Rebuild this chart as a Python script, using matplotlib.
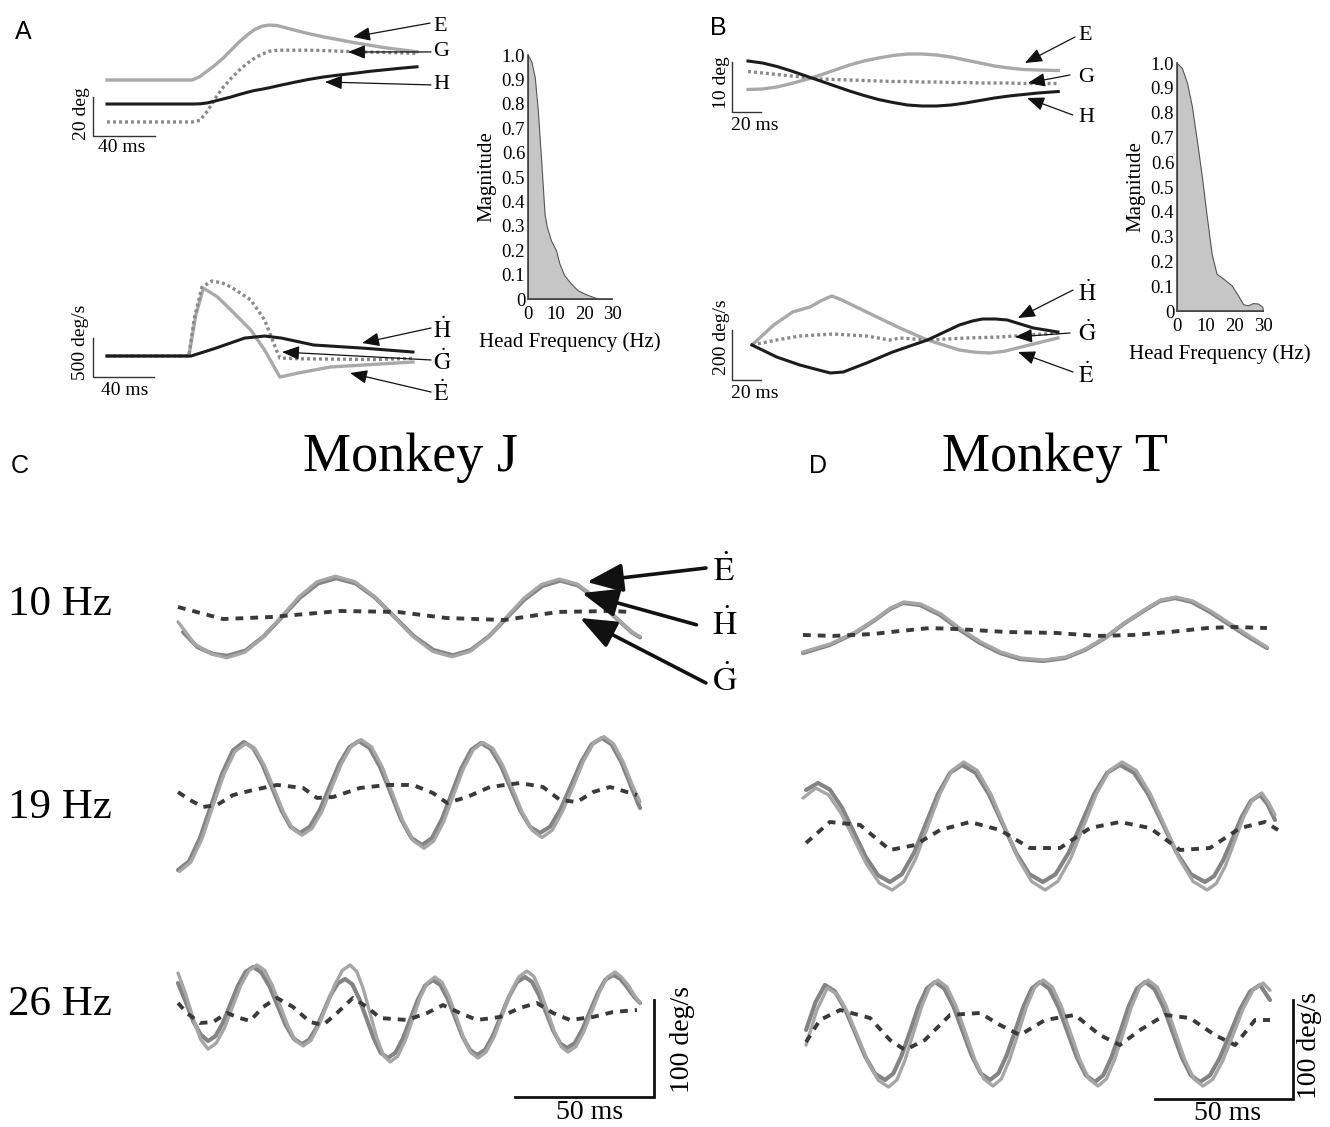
import numpy as np
import matplotlib
matplotlib.use('Agg')
import matplotlib.pyplot as plt

plt.rcParams['font.family'] = ['Liberation Serif', 'DejaVu Serif']
plt.rcParams['mathtext.fontset'] = 'stix'

W, H = 1330, 1127

# ---- A: 40 deg gaze shift, position (deg) and velocity (deg/s) ----
a_pos_t = [0, 55, 60, 65, 70, 75, 80, 85, 90, 95, 100, 105, 110, 120, 130, 140, 150, 160, 170, 180, 190, 200]
a_eye = [28.7, 28.7, 30.5, 33.5, 36.5, 40, 44, 48, 51.5, 54.5, 56.3, 56.9, 56.6, 54.5, 52.5, 50.8, 49.3, 47.8, 46.5, 45.2, 44.2, 43.2]
a_gaze = [7.2, 7.2, 8, 13, 19.5, 25, 29.5, 33.5, 37, 39.8, 42, 43.5, 44, 44, 44, 43.8, 43.5, 43.2, 43, 42.8, 42.6, 42.4]
a_head = [16.4, 16.4, 16.5, 17, 18, 19, 20, 21.2, 22.3, 23.3, 24, 24.8, 25.7, 27.4, 29, 30.3, 31.3, 32.2, 33.2, 34, 34.8, 35.5]

a_eye_vel_t = [0, 53.5, 58, 63, 72, 81, 94, 103, 113, 125, 146, 168, 185, 200]
a_eye_vel = [0, 0, 520, 870, 760, 590, 333, 77, -270, -218, -141, -115, -95, -77]
a_gaze_vel_t = [0, 53.5, 57, 62, 68.4, 75, 81, 94, 103, 110, 113, 125, 150, 175, 200]
a_gaze_vel = [0, 0, 480, 880, 961, 940, 885, 718, 462, 115, -26, -35, -40, -45, -30]
a_head_vel_t = [0, 55, 71, 90, 103, 114, 135, 168, 200]
a_head_vel = [0, 0, 100, 230, 256, 230, 141, 100, 51]

a_freq = [0, 1.2, 2.4, 3.5, 4.7, 5.9, 6.7, 8.2, 10, 11.2, 12.9, 15.3, 17.6, 20, 22.9, 25.3, 30]
a_mag = [1.0, 0.973, 0.91, 0.775, 0.57, 0.35, 0.297, 0.24, 0.2, 0.146, 0.098, 0.064, 0.037, 0.023, 0.0096, 0, 0]

# ---- B: small head-free oscillation ----
b_pos_t = [0, 10, 20, 30, 40, 50, 60, 70, 80, 90, 100, 110, 120, 130, 140, 150, 160, 170, 180, 190, 200, 214]
b_eye = [4.5, 4.6, 5.0, 5.7, 6.5, 7.4, 8.4, 9.4, 10.2, 10.8, 11.3, 11.6, 11.6, 11.4, 11.0, 10.4, 9.8, 9.2, 8.8, 8.5, 8.4, 8.3]
b_gaze = [8.1, 7.8, 7.5, 7.2, 6.9, 6.6, 6.5, 6.4, 6.3, 6.2, 6.1, 6.1, 6.0, 6.0, 5.9, 5.9, 5.8, 5.8, 5.8, 5.7, 5.7, 5.7]
b_head = [10.2, 9.8, 9.1, 8.2, 7.2, 6.2, 5.2, 4.2, 3.3, 2.5, 1.9, 1.4, 1.2, 1.2, 1.4, 1.8, 2.3, 2.8, 3.2, 3.5, 3.8, 4.1]

b_eye_vel_t = [0, 15, 28, 40, 48, 55, 62, 79, 102, 121, 143, 154, 164, 174, 183, 211]
b_eye_vel = [0, 80, 132, 152, 178, 196, 180, 132, 68, 20, -20, -29, -32, -25, -12, 28]
b_gaze_vel_t = [0, 17, 33, 56, 79, 95, 102, 121, 148, 171, 211]
b_gaze_vel = [0, 20, 36, 44, 36, 20, 28, 20, 28, 32, 48]
b_head_vel_t = [0, 17, 33, 46, 54, 63, 79, 97, 121, 143, 152, 159, 168, 176, 194, 211]
b_head_vel = [0, -48, -80, -100, -112, -108, -72, -28, 20, 80, 96, 104, 104, 100, 68, 52]

b_freq = [0, 1.7, 3.5, 5.2, 6.9, 8.7, 10.4, 12.1, 13.8, 16.2, 19, 21.3, 23.1, 24.8, 26.5, 28.3, 29.8, 30]
b_mag = [1.0, 0.98, 0.92, 0.825, 0.69, 0.54, 0.38, 0.23, 0.15, 0.13, 0.104, 0.063, 0.027, 0.023, 0.032, 0.03, 0.016, 0]

# ---- C: monkey J, sinusoidal head perturbations (deg/s) ----
cj10_eye_t = [0, 6, 12, 17.5, 24.0, 30.5, 37.1, 43.6, 50.1, 56.6, 63.6, 70.6, 77.6, 84.6, 91.6, 98.6, 105.0, 111.5,
              117.9, 124.3, 130.8, 137.2, 143.6, 150.0, 156.5, 163.0, 166.0]
cj10_eye = [-5, -28, -38, -42, -36.4, -21, 0, 21, 36.4, 42, 36.4, 21.3, 0.5, -20.3, -35.4, -41, -35.6, -21,
            -1, 19, 33.6, 39, 34, 20, 2, -15, -20]
cj10_head_t = [1.8, 7, 12.5, 17.8, 24.3, 30.8, 37.4, 43.9, 50.4, 56.9, 63.9, 70.9, 77.9, 84.9, 91.9, 98.9, 105.3, 111.8,
               118.2, 124.6, 131.1, 137.5, 143.9, 150.3, 156.8, 163.3, 166.2]
cj10_head = [-15.5, -31, -38, -40, -34.6, -20, 0, 20, 34.6, 40, 34.6, 20, 0, -20, -34, -39.5, -34, -20,
             -1, 18, 32, 37.5, 32.5, 19, 1, -16, -21]
cj10_gaze_t = [0, 16.2, 33.5, 58.3, 79.1, 96.4, 117.3, 136.7, 155.8, 162.6]
cj10_gaze = [10.3, -2.1, 0, 6.2, 5.2, -1, -3.1, 5.2, 6.2, 5.2]

cj19_head_t = [0, 3.95, 7.9, 11.85, 15.8, 19.75, 23.7, 27.1, 30.4, 33.8, 37.2, 40.5, 43.9, 47.4, 51.0, 54.5, 58.0,
               61.6, 65.1, 68.9, 72.7, 76.5, 80.2, 84.0, 87.8, 91.3, 94.9, 98.4, 101.9, 105.5, 109.0, 112.5, 116.1,
               119.6, 123.1, 126.7, 130.2, 133.9, 137.6, 141.4, 145.1, 148.8, 152.5, 156.0, 159.5, 163.0, 166.2]
cj19_head = [-82.5, -73.7, -49.5, -16.5, 16.5, 40.7, 49.5, 43.2, 26.1, 2.6, -20.9, -38.0, -44.3, -37.9, -20.6, 3.1, 26.8,
             44.1, 50.5, 43.3, 23.7, -3.1, -29.9, -49.5, -56.7, -49.7, -30.4, -4.1, 22.2, 41.4, 48.5, 42.3, 25.3,
             2.1, -21.1, -38.1, -44.3, -37.7, -19.8, 4.7, 29.2, 47.1, 53.6, 46.9, 28.6, 3.6, -18.6]
cj19_eye_t = [0.5, 4.6, 8.6, 12.5, 16.5, 20.4, 24.4, 27.8, 31.1, 34.5, 37.9, 41.2, 44.6, 48.1, 51.7, 55.2, 58.7,
              62.3, 65.8, 69.6, 73.4, 77.2, 80.9, 84.7, 88.5, 92.0, 95.6, 99.1, 102.6, 106.2, 109.7, 113.2, 116.8,
              120.3, 123.8, 127.4, 130.9, 134.6, 138.3, 142.1, 145.8, 149.5, 153.2, 156.7, 160.2, 163.7, 166.2]
cj19_eye = [-84, -74.5, -50.5, -17, 16, 39.5, 48, 42, 25, 1.5, -22.5, -40, -46.5, -40, -22.5, 2, 26.5,
            45, 52, 44.5, 24, -4, -32, -52.5, -60, -52.5, -32.5, -5, 21.5, 41.5, 49, 43, 25.5,
            1.5, -23, -41.5, -49, -41.5, -22, 3.5, 29.5, 48.5, 55, 47.5, 28.5, 3, -12]
cj19_gaze_t = [0, 4.3, 9.0, 14.0, 19.8, 27.0, 35.6, 45.0, 50.0, 55.8, 65.5, 75.2, 84.5, 91.7, 96.8, 104.0, 112.2,
               123.0, 131.3, 137.4, 143.5, 149.3, 155.4, 161.5, 165.1]
cj19_gaze = [-2.1, -10.3, -17.5, -15.5, -5.2, 0, 5.2, 2.1, -8.2, -7.2, 2.1, 5.2, 5.2, -3.1, -13.4, -7.2, 3.1,
             7.2, 3.1, -10.3, -12.4, -2.1, 3.1, -2.1, -5.2]

cj26_head_t = [0, 2.7, 5.4, 8.1, 10.8, 13.5, 16.2, 18.9, 21.6, 24.3, 27.0, 29.9, 32.9, 35.8, 38.7, 41.7, 44.6, 47.2,
               49.8, 52.4, 54.9, 57.5, 60.1, 62.7, 65.2, 67.8, 70.4, 72.9, 75.5, 78.2, 80.9, 83.6, 86.3, 89.0, 91.7,
               94.4, 97.0, 99.7, 102.3, 105.0, 107.6, 110.5, 113.3, 116.2, 119.1, 121.9, 124.8, 127.3, 129.8, 132.4,
               134.9, 137.4, 139.9, 142.7, 145.4, 148.2, 151.0, 153.7, 156.5, 159.0, 161.5, 164.0, 166.2]
cj26_head = [30.9, 12, -8, -22, -28.9, -23.8, -9.8, 9.3, 28.3, 42.3, 47.4, 42.1, 27.6, 7.7, -12.2, -26.7, -32.0, -27.5,
             -15.2, 1.6, 18.3, 30.6, 35.1, 29.6, 14.7, -5.7, -26.0, -41.0, -46.4, -41.0, -26.3, -6.2, 13.9, 28.6, 34.0,
             28.8, 14.7, -4.7, -24.0, -38.1, -43.3, -37.9, -23.2, -3.1, 17.0, 31.7, 37.1, 32.2, 18.8, 0.5,
             -17.8, -31.2, -36.1, -31.1, -17.3, 1.6, 20.4, 34.2, 39.2, 35.5, 26.8, 17.0, 10.3]
cj26_eye_t = [0, 2.7, 5.4, 8.1, 10.8, 13.7, 16.7, 19.6, 22.5, 25.5, 28.4, 31.2, 33.9, 36.7, 39.5, 42.2, 45.0, 47.8,
              50.6, 53.5, 56.3, 59.1, 61.9, 64.3, 66.7, 69.1, 71.5, 73.9, 76.3, 79.0, 81.7, 84.4, 87.0, 89.7, 92.4,
              95.0, 97.6, 100.2, 102.7, 105.3, 107.9, 110.8, 113.8, 116.7, 119.6, 122.6, 125.5, 128.0, 130.4, 132.9,
              135.4, 137.8, 140.3, 143.1, 145.9, 148.8, 151.6, 154.4, 157.2, 159.5, 161.9, 164.0, 166.2]
cj26_eye = [41.2, 20, -5, -27, -37.1, -31.3, -15.5, 6.2, 27.9, 43.7, 49.5, 43.9, 28.6, 7.8, -13.1, -28.4, -34.0, -28.4,
            -13.1, 7.8, 28.6, 43.9, 49.5, 42.8, 24.5, -0.5, -25.5, -43.8, -50.5, -44.6, -28.6, -6.7, 15.2, 31.2, 37.1,
            31.5, 16.2, -4.7, -25.5, -40.8, -46.4, -40.4, -24.0, -1.6, 20.9, 37.3, 43.3, 37.7, 22.4, 1.6,
            -19.3, -34.6, -40.2, -34.7, -19.6, 1.1, 21.7, 36.8, 42.3, 37.0, 28.9, 19.0, 10.3]
cj26_gaze_t = [0, 3.2, 7.9, 12.6, 17.6, 22.3, 25.9, 30.6, 35.6, 41.4, 47.5, 52.2, 57.2, 62.9, 68.0, 72.7, 82.4, 89.6,
               95.3, 101.4, 107.6, 115.8, 123.0, 129.1, 134.9, 141.0, 149.3, 156.5, 165.1]
cj26_gaze = [10.3, 0, -10.3, -9.3, 0, -5.2, -8.2, 6.2, 15.5, 6.2, -9.3, -12.4, 0, 15.5, 6.2, -5.2, -7.2, 0,
             8.2, 0, -7.2, -4.1, 5.2, 10.3, 0, -7.2, -4.1, 1.0, 3.1]

# ---- D: monkey T ----
dt10_head_t = [0, 9.7, 18.8, 26.0, 31.4, 36.1, 42.2, 49.5, 56.7, 63.9, 71.1, 78.3, 86.6, 94.6, 101.8, 109.0, 116.2,
               123.5, 128.9, 134.3, 140.4, 146.9, 154.1, 161.4, 167.5]
dt10_head = [-21.2, -13.1, -1.0, 12.1, 23.2, 29.3, 27.3, 17.2, 2.0, -11.1, -21.2, -27.3, -29.3, -26.3, -18.2, -6.1, 9.1,
             22.2, 31.3, 34.3, 30.3, 20.2, 7.1, -6.1, -16.2]
dt10_eye_t = [0, 9.9, 19.0, 26.3, 31.7, 36.4, 42.5, 49.8, 57.0, 64.2, 71.4, 78.6, 86.9, 94.9, 102.1, 109.3, 116.5,
              123.8, 129.2, 134.6, 140.7, 147.2, 154.4, 161.7, 167.5]
dt10_eye = [-20.2, -12.1, 0, 13.1, 24.2, 30.3, 28.3, 18.2, 3.0, -10.1, -20.2, -26.3, -28.3, -25.3, -17.2, -5.1, 10.1,
            23.2, 32.3, 35.3, 31.3, 21.2, 8.1, -5.1, -15.2]
dt10_gaze_t = [0, 10.8, 25.3, 35.0, 45.8, 55.6, 73.6, 91.7, 106.1, 119.1, 132.5, 145.8, 155.2, 167.5]
dt10_gaze = [-3.0, -4.0, -2.0, 1.0, 4.0, 3.0, 0, -1.0, -4.0, -3.0, 0, 4.0, 5.1, 4.0]

dt19_head_t = [1.1, 5.4, 9.7, 14.1, 18.4, 22.7, 27.1, 31.4, 35.7, 40.1, 44.4, 48.7, 53.1, 57.4, 62.3, 67.1, 72.0,
               76.9, 81.7, 86.6, 91.2, 95.9, 100.5, 105.1, 109.8, 114.4, 119.5, 124.6, 129.8, 134.9, 140.0, 145.1,
               148.4, 151.7, 155.1, 158.4, 161.7, 165.0, 167.7, 170.4]
dt19_head = [40.4, 47.5, 40.8, 22.5, -2.5, -27.5, -45.8, -52.5, -44.6, -23.0, 6.6, 36.2, 57.8, 65.7, 57.8, 36.2, 6.6,
             -23.0, -44.6, -52.5, -44.6, -23.0, 6.6, 36.2, 57.8, 65.7, 57.8, 36.2, 6.6, -23.0, -44.6, -52.5,
             -46.6, -30.5, -8.6, 13.4, 29.5, 35.4, 26.0, 10.1]
dt19_eye_t = [0, 4.6, 9.2, 13.8, 18.4, 23.0, 27.6, 32.2, 36.5, 40.8, 45.1, 49.4, 53.7, 58.0, 62.9, 67.8, 72.7,
              77.6, 82.5, 87.4, 92.0, 96.7, 101.3, 105.9, 110.6, 115.2, 120.3, 125.4, 130.6, 135.7, 140.8, 145.9,
              149.2, 152.5, 155.8, 159.0, 162.3, 165.6, 168.0, 170.4]
dt19_eye = [32.3, 42.4, 35.5, 16.7, -9.1, -34.9, -53.7, -60.6, -51.9, -28.3, 4.1, 36.4, 60.0, 68.7, 60.0, 36.4, 4.1,
            -28.3, -51.9, -60.6, -51.9, -28.3, 4.1, 36.4, 60.0, 68.7, 60.0, 36.4, 4.1, -28.3, -51.9, -60.6,
            -54.0, -36.1, -11.6, 12.9, 30.8, 37.4, 28.0, 15.2]
dt19_gaze_t = [1.1, 9.7, 20.6, 31.4, 40.4, 49.5, 60.3, 71.1, 81.9, 92.8, 103.6, 114.4, 125.3, 136.1, 146.9, 157.8, 166.8, 171.5]
dt19_gaze = [-13.1, 8.1, 5.1, -20.2, -15.2, 0, 8.1, 0, -18.2, -18.2, 2.0, 8.1, 2.0, -20.2, -18.2, 2.0, 8.1, 0]

dt26_head_t = [1.1, 4.5, 7.9, 11.5, 15.1, 18.8, 22.4, 26.0, 29.6, 32.6, 35.6, 38.7, 41.7, 44.7, 47.7, 51.0, 54.3,
               57.6, 60.9, 64.2, 67.5, 70.5, 73.5, 76.6, 79.6, 82.6, 85.6, 88.9, 92.2, 95.5, 98.8, 102.1, 105.4,
               108.4, 111.4, 114.5, 117.5, 120.5, 123.5, 126.8, 130.1, 133.4, 136.7, 140.0, 143.3, 146.9, 150.5,
               154.2, 157.8, 161.4, 165.0, 168.6]
dt26_head = [0, 28, 45.5, 39.1, 21.5, -2.5, -26.5, -44.1, -50.5, -43.9, -25.8, -1, 23.8, 41.9, 48.5, 41.9, 23.8,
             -1, -25.8, -43.9, -50.5, -43.9, -25.8, -1, 23.8, 41.9, 48.5, 41.7, 23.3, -2, -27.3, -45.7, -52.5,
             -45.7, -27.3, -2, 23.3, 41.7, 48.5, 41.7, 23.3, -2, -27.3, -45.7, -52.5, -45.9, -28,
             -3.5, 21, 38.9, 45.5, 30.3]
dt26_eye_t = [1.1, 5.0, 8.8, 12.5, 16.2, 19.9, 23.5, 27.2, 30.9, 33.9, 36.8, 39.8, 42.8, 45.7, 48.7, 52.0, 55.3,
              58.7, 62.0, 65.3, 68.6, 71.6, 74.6, 77.7, 80.7, 83.7, 86.7, 90.0, 93.3, 96.6, 99.9, 103.2, 106.5,
              109.5, 112.5, 115.6, 118.6, 121.6, 124.6, 127.9, 131.2, 134.5, 137.8, 141.1, 144.4, 148.0, 151.6,
              155.3, 158.9, 162.5, 166.1, 168.6]
dt26_eye = [-15.2, 20.2, 42.4, 35.7, 17.4, -7.6, -32.6, -50.9, -57.6, -50.4, -30.6, -3.6, 23.5, 43.3, 50.5, 43.3, 23.7,
            -3.1, -29.8, -49.4, -56.6, -49.4, -29.8, -3.1, 23.7, 43.3, 50.5, 43.3, 23.7, -3.1, -29.8, -49.4, -56.6,
            -49.4, -29.8, -3.1, 23.7, 43.3, 50.5, 43.3, 23.7, -3.1, -29.8, -49.4, -56.6, -49.6, -30.6,
            -4.6, 21.5, 40.5, 47.5, 40.0]
dt26_gaze_t = [1.1, 6.1, 13.4, 24.2, 31.4, 36.8, 44.0, 53.1, 63.9, 71.1, 78.3, 87.4, 98.2, 107.2, 114.4, 121.7, 130.7,
               139.7, 148.7, 156.0, 163.2, 168.6]
dt26_gaze = [-12.1, 10.1, 20.2, 12.1, -10.1, -20.2, -10.1, 15.2, 17.2, 5.1, -5.1, 10.1, 15.2, -5.1, -15.2, 0, 15.2,
             12.1, -5.1, -15.2, 10.1, 10.1]

EYE = '#a9a9a9'
GAZE = '#8a8a8a'
HEAD = '#1c1c1c'
EYE_V = '#a6a6a6'
HEAD_V = '#848484'
GAZE_V = '#3a3a3a'
DOTS = (0, (0.9, 0.9))
DASHES = (0, (2.0, 1.8))

fig = plt.figure(figsize=(W / 100, H / 100), dpi=100)


def trace_axes(left, top, width, height, x0, y0, sx, sy):
    # axes placed by pixel box; data origin at pixel (x0, y0), sx/sy pixels per unit
    ax = fig.add_axes([left / W, 1 - (top + height) / H, width / W, height / H])
    ax.set_xlim((left - x0) / sx, (left + width - x0) / sx)
    ax.set_ylim((y0 - top - height) / sy, (y0 - top) / sy)
    ax.axis('off')
    return ax


def scale_bar(ax, corner, dx, dy, xlabel, ylabel, xl_pos, yl_pos, fs, lw=1.0, color='#333333'):
    cx, cy = corner
    ax.plot([cx + dx, cx, cx], [cy, cy, cy + dy], color=color, lw=lw,
            clip_on=False, solid_joinstyle='miter')
    ax.text(*xl_pos, xlabel, fontsize=fs, ha='center', va='center')
    ax.text(*yl_pos, ylabel, fontsize=fs, ha='center', va='center', rotation=90)


def arrow(ax, tip, tail, lw=0.9, ms=14, hl=0.75, hw=0.3):
    ax.annotate('', xy=tip, xytext=tail, annotation_clip=False,
                arrowprops=dict(arrowstyle=f'-|>,head_length={hl},head_width={hw}', color='#111111',
                                lw=lw, mutation_scale=ms, shrinkA=0, shrinkB=0))


def spectrum(left, top, width, height, freq, mag):
    ax = fig.add_axes([left / W, 1 - (top + height) / H, width / W, height / H])
    ax.fill_between(freq, mag, 0, facecolor='#c6c6c6', edgecolor='#555555', lw=0.8)
    ax.set_xlim(0, 30)
    ax.set_ylim(0, 1.0)
    for s in ('top', 'right'):
        ax.spines[s].set_visible(False)
    for s in ('left', 'bottom'):
        ax.spines[s].set_color('#444444')
        ax.spines[s].set_linewidth(1.2)
    ax.set_yticks(np.arange(0, 1.01, 0.1))
    ax.set_yticklabels(['0'] + [f'{v:.1f}' for v in np.arange(0.1, 1.01, 0.1)])
    ax.set_xticks([0, 10, 20, 30])
    ax.tick_params(axis='y', length=0, labelsize=13.5, pad=2)
    ax.tick_params(axis='x', length=0, labelsize=13.5, pad=5)
    ax.set_ylabel('Magnitude', fontsize=15, labelpad=4)
    ax.set_xlabel('Head Frequency (Hz)', fontsize=15, labelpad=7)
    return ax


def dotted_label(ch):
    return r'$\dot{\mathrm{' + ch + '}}$'


# ---- panel A ----
ax = trace_axes(60, 10, 400, 150, 107, 136, 1.55, 1.95)
ax.plot(a_pos_t, a_eye, color=EYE, lw=2.4)
ax.plot(a_pos_t, a_gaze, color=GAZE, lw=2.4, ls=DOTS)
ax.plot(a_pos_t, a_head, color=HEAD, lw=2.2)
scale_bar(ax, (-9, 0), 40, 20, '40 ms', '20 deg', (9.7, -5.8), (-16.5, 11.5), 14)
arrow(ax, (158.7, 50.8), (208.4, 57.9))
arrow(ax, (155.5, 43.1), (209, 43.1))
arrow(ax, (140.6, 27.7), (209, 26.2))
for y, ch in [(55.9, 'E'), (43.1, 'G'), (26.2, 'H')]:
    ax.text(210.5, y, ch, fontsize=16, ha='left', va='center')

ax = trace_axes(60, 260, 400, 150, 107, 356, 1.53, 0.078)
ax.plot(a_eye_vel_t, a_eye_vel, color=EYE, lw=2.4)
ax.plot(a_gaze_vel_t, a_gaze_vel, color=GAZE, lw=2.4, ls=DOTS)
ax.plot(a_head_vel_t, a_head_vel, color=HEAD, lw=2.2)
scale_bar(ax, (-9.2, -269), 40, 500, '40 ms', '500 deg/s', (11.8, -436), (-17.6, 180), 14)
arrow(ax, (166.7, 166.7), (211.8, 359))
arrow(ax, (114.4, 51), (211.8, -51))
arrow(ax, (158.8, -218), (211.8, -462))
for y, ch in [(333, 'H'), (-77, 'G'), (-474, 'E')]:
    ax.text(213, y, dotted_label(ch), fontsize=17, ha='left', va='center')

spectrum(528, 55, 84, 244, a_freq, a_mag)

# ---- panel B ----
ax = trace_axes(700, 10, 400, 150, 748, 112, 1.45, 5.0)
ax.plot(b_pos_t, b_eye, color=EYE, lw=2.4)
ax.plot(b_pos_t, b_gaze, color=GAZE, lw=2.4, ls=DOTS)
ax.plot(b_pos_t, b_head, color=HEAD, lw=2.2)
scale_bar(ax, (-11, 0), 20, 10, '20 ms', '10 deg', (4.8, -2.6), (-18.5, 5.8), 14)
arrow(ax, (191, 9.8), (225.5, 15))
arrow(ax, (193, 5.8), (222, 7.4))
arrow(ax, (192.4, 2.8), (224, -0.6))
for y, ch in [(15.4, 'E'), (7.0, 'G'), (-1.0, 'H')]:
    ax.text(227.6, y, ch, fontsize=16, ha='left', va='center')

ax = trace_axes(700, 260, 400, 150, 752, 345, 1.45, 0.25)
ax.plot(b_eye_vel_t, b_eye_vel, color=EYE, lw=2.4, solid_joinstyle='round')
ax.plot(b_gaze_vel_t, b_gaze_vel, color=GAZE, lw=2.4, ls=DOTS)
ax.plot(b_head_vel_t, b_head_vel, color=HEAD, lw=2.2, solid_joinstyle='round')
scale_bar(ax, (-13.8, -140), 20, 200, '20 ms', '200 deg/s', (2.1, -192), (-20.7, 32), 14)
arrow(ax, (183.4, 108), (221.4, 220))
arrow(ax, (181.4, 32), (219.3, 48))
arrow(ax, (183.4, -28), (221.4, -108))
for y, ch in [(208, 'H'), (48, 'G'), (-120, 'E')]:
    ax.text(224.8, y, dotted_label(ch), fontsize=17, ha='left', va='center')

spectrum(1177, 63, 86, 248, b_freq, b_mag)

# ---- panels C and D ----
rows_c = [(617, cj10_eye_t, cj10_eye, cj10_head_t, cj10_head, cj10_gaze_t, cj10_gaze),
          (790, cj19_eye_t, cj19_eye, cj19_head_t, cj19_head, cj19_gaze_t, cj19_gaze),
          (1013, cj26_eye_t, cj26_eye, cj26_head_t, cj26_head, cj26_gaze_t, cj26_gaze)]
rows_d = [(632, dt10_eye_t, dt10_eye, dt10_head_t, dt10_head, dt10_gaze_t, dt10_gaze),
          (830, dt19_eye_t, dt19_eye, dt19_head_t, dt19_head, dt19_gaze_t, dt19_gaze),
          (1030, dt26_eye_t, dt26_eye, dt26_head_t, dt26_head, dt26_gaze_t, dt26_gaze)]

axes_c, axes_d = [], []
for rows, x0, sx, sy, store in [(rows_c, 178, 2.78, 0.97, axes_c), (rows_d, 803, 2.77, 0.99, axes_d)]:
    for yc, et, ev, ht, hv, gt, gv in rows:
        ax = trace_axes(x0 - 20, yc - 90, 520, 180, x0, yc, sx, sy)
        ax.plot(ht, hv, color=HEAD_V, lw=3.0, solid_joinstyle='round', solid_capstyle='round')
        ax.plot(et, ev, color=EYE_V, lw=2.4, solid_joinstyle='round', solid_capstyle='round')
        ax.plot(gt, gv, color=GAZE_V, lw=2.8, ls=DASHES)
        store.append(ax)

ax = axes_c[0]
arrow(ax, (147.1, 36.1), (189.9, 50.5), lw=2.6, ms=22, hl=1.0, hw=0.4)
arrow(ax, (145.3, 24.7), (186.5, -8.0), lw=2.6, ms=22, hl=1.0, hw=0.4)
arrow(ax, (144.6, -1), (189.9, -68), lw=2.6, ms=22, hl=1.0, hw=0.4)
ax.text(192.5, 47, dotted_label('E'), fontsize=24, ha='left', va='center')
ax.text(192.0, -9, dotted_label('H'), fontsize=24, ha='left', va='center')
ax.text(192.0, -66, dotted_label('G'), fontsize=24, ha='left', va='center')

scale_bar(axes_c[2], (171.2, -86.6), -50, 100, '50 ms', '100 deg/s', (148.2, -103), (181.3, -27.8), 20,
          lw=2.0, color='#111111')
scale_bar(axes_d[2], (176.9, -69.7), -50, 100, '50 ms', '100 deg/s', (153.4, -84), (182.7, -15.2), 20,
          lw=2.0, color='#111111')

for y, txt in [(605, '10 Hz'), (808, '19 Hz'), (1005, '26 Hz')]:
    fig.text(8 / W, 1 - y / H, txt, fontsize=31, ha='left', va='center')
fig.text(410 / W, 1 - 458 / H, 'Monkey J', fontsize=39, ha='center', va='center')
fig.text(1055 / W, 1 - 458 / H, 'Monkey T', fontsize=39, ha='center', va='center')

for x, y, letter in [(23, 32, 'A'), (718, 28, 'B'), (20, 466, 'C'), (818, 466, 'D')]:
    fig.text(x / W, 1 - y / H, letter, fontsize=18, ha='center', va='center', family='Liberation Sans')

fig.savefig('out.png', dpi=100, facecolor='white')
